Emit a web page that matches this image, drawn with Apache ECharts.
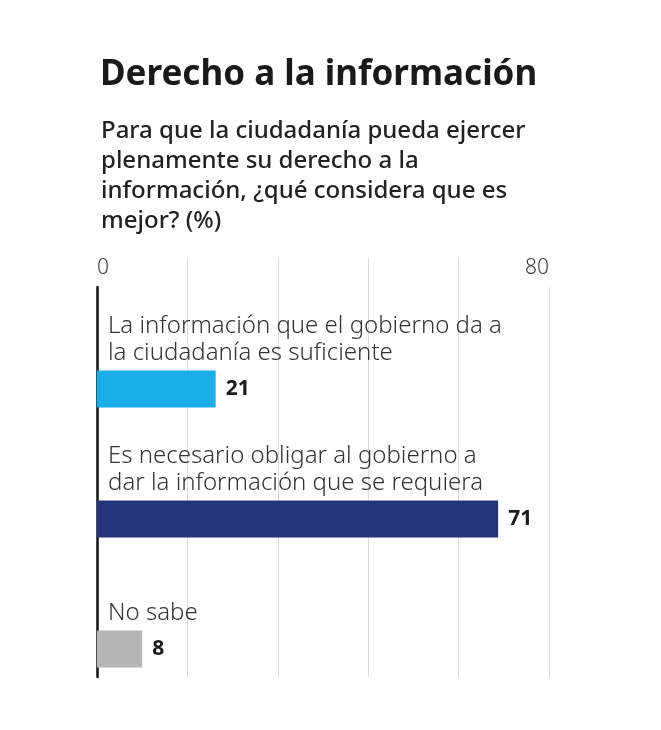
<!DOCTYPE html>
<html>
<head>
<meta charset="utf-8">
<script src="https://cdn.jsdelivr.net/npm/echarts@6/dist/echarts.min.js"></script>
<style>
html,body{margin:0;padding:0;background:#fff;}
#chart{width:661px;height:730px;}
</style>
</head>
<body>
<div id="chart"></div>
<script>
const titleText = 'Derecho a la información';
const subtitleText = 'Para que la ciudadanía pueda ejercer\nplenamente su derecho a la\ninformación, ¿qué considera que es\nmejor? (%)';
const categories = [
  'La información que el gobierno da a\nla ciudadanía es suficiente',
  'Es necesario obligar al gobierno a\ndar la información que se requiera',
  'No sabe'
];
const values = [21, 71, 8];
const barColors = ['#1aaee8', '#233478', '#b5b5b5'];
const axisMin = 0;
const axisMax = 80;
const axisInterval = 16;
const shownTickLabels = [0, 80];

const chart = echarts.init(document.getElementById('chart'), null, {renderer: 'canvas'});
const L = 97, R = 112;
chart.setOption({
  backgroundColor: '#ffffff',
  animation: false,
  title: [
    {text: titleText, left: 95, top: 53,
     textStyle: {fontFamily: 'Noto Sans', fontSize: 35, fontWeight: 'bold', color: '#1a1a1a'}},
    {text: subtitleText, left: 96, top: 111,
     textStyle: {fontFamily: 'Noto Sans', fontSize: 24, fontWeight: 500, lineHeight: 30, color: '#222'}}
  ],
  grid: [
    {left: L, right: R, top: 258, bottom: 53},
    {left: L, right: R, top: 287, bottom: 53},
    {left: L, right: R, top: 324, bottom: 16}
  ],
  xAxis: [
    {gridIndex: 0, type: 'value', min: axisMin, max: axisMax, interval: axisInterval, position: 'top',
     axisLine: {show: false}, axisTick: {show: false},
     axisLabel: {show: true, inside: true, margin: 0, fontFamily: 'Noto Sans', fontWeight: 300, fontSize: 21, color: '#3a3a3a',
       alignMinLabel: 'left', alignMaxLabel: 'right',
       formatter: v => shownTickLabels.includes(v) ? String(v) : ''},
     splitLine: {show: true, showMinLine: false, showMaxLine: false, lineStyle: {color: '#dadada', width: 1}}},
    {gridIndex: 1, type: 'value', min: axisMin, max: axisMax, interval: axisInterval,
     axisLine: {show: false}, axisTick: {show: false}, axisLabel: {show: false},
     splitLine: {show: true, showMinLine: false, lineStyle: {color: '#dadada', width: 1}}},
    {gridIndex: 2, type: 'value', min: axisMin, max: axisMax, interval: axisInterval, show: false}
  ],
  yAxis: [
    {gridIndex: 0, type: 'value', show: false},
    {gridIndex: 1, type: 'category', data: categories,
     axisLine: {show: true, lineStyle: {color: '#111', width: 2.5}},
     axisTick: {show: false}, axisLabel: {show: false}},
    {gridIndex: 2, type: 'category', data: categories, inverse: true,
     axisLine: {show: false}, axisTick: {show: false},
     axisLabel: {show: true, inside: true, margin: 11, align: 'left', verticalAlign: 'bottom',
       padding: [0, 0, 22, 0], fontFamily: 'Noto Sans', fontWeight: 300, fontSize: 24, lineHeight: 27, color: '#333'}}
  ],
  series: [{
    type: 'bar', xAxisIndex: 2, yAxisIndex: 2, barWidth: 37,
    data: values.map((v, i) => ({value: v, itemStyle: {color: barColors[i]}})),
    label: {show: true, position: 'right', distance: 10, fontFamily: 'Noto Sans', fontWeight: 'bold',
      fontSize: 21, color: '#1a1a1a'}
  }]
});
</script>
</body>
</html>
